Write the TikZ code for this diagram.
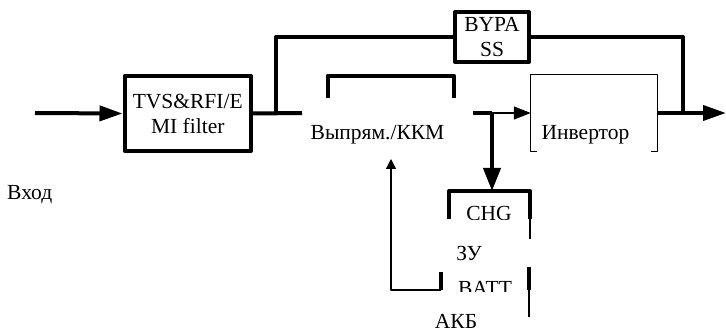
\documentclass[tikz,border=0pt]{standalone}
\usepackage{fontspec}
\setmainfont{Liberation Serif}
\usetikzlibrary{arrows.meta}
\tikzset{
  thk/.style={line width=4pt},
  thn/.style={line width=1.3pt},
  blk/.style={draw,thk,inner sep=0pt,align=center},
  hole/.style={inner sep=0pt},
  lbl/.style={inner sep=0pt,anchor=base}
}
\begin{document}
\begin{tikzpicture}[x=1pt,y=-1pt,font=\fontsize{21.5}{25}\selectfont,line join=round,>={Triangle[length=23pt,width=15pt]}]
\useasboundingbox (0,0) rectangle (726,334);
% blocks
\node[blk,minimum width=126.5pt,minimum height=75pt] (filt) at (187.75,113.5) {TVS\&RFI/E\\MI filter};
\node[blk,minimum width=74pt,minimum height=50pt] (byp) at (492,37) {BYPA\\SS};
\node[hole,minimum width=126.3pt,minimum height=74pt] (rect) at (390.85,113) {};
\node[hole,minimum width=126pt,minimum height=76pt] (inv) at (594,113) {};
\coordinate (in) at (35,113);
\coordinate (jl) at (276,113);
\coordinate (rin) at (302,113);
\coordinate (rout) at (473,113);
\coordinate (jc) at (492,113);
\coordinate (jr) at (683,113);
\coordinate (out) at (726,113);
\coordinate (chgL) at (449.3,191);
\coordinate (chgR) at (530,191);
\coordinate (batL) at (441,290);
\coordinate (batR) at (529,290);
\coordinate (fb) at (391,159);
% texts
\node[lbl,anchor=base west] (vhod) at (7,200) {Вход};
\node[lbl] (rectt) at (377.5,140) {Выпрям./ККМ};
\node[lbl] (invt) at (585.5,140) {Инвертор};
\node[lbl] (zu) at (469,260) {ЗУ};
\node[lbl] (akb) at (456,328.5) {АКБ};
\begin{scope}
\clip (440,180) rectangle (540,219);
\node[lbl] (chgt) at (489,221) {CHG};
\end{scope}
\begin{scope}
\clip (440,270) rectangle (540,291);
\node[lbl] (batt) at (485,295.5) {BATT};
\end{scope}
% box outlines
\draw[thk] ([yshift=-22pt]rect.north west) -- (rect.north west) -- (rect.north east) -- ([yshift=-22pt]rect.north east);
\draw[thn] ([xshift=6pt]inv.south west) -- (inv.south west) -- (inv.north west) -- (inv.north east) -- (inv.south east) -- ([xshift=-6pt]inv.south east);
\draw[thk] ([yshift=-28pt]chgL) -- (chgL) -- (chgR) -- ([yshift=-28pt]chgR);
\draw[thn] ([yshift=-28pt]chgR) -- ([yshift=-48pt]chgR);
\draw[thk] (batL) -- ([yshift=18pt]batL);
\draw[thk] (batR) -- ([yshift=23pt]batR);
\draw[thn] (batR) -- ([yshift=-27pt]batR);
% connectors
\draw[thk,->] (in) -- (filt.west);
\draw[thk] (filt.east) -- (rin);
\draw[thk] (jl) |- (byp.west);
\draw[thk] (byp.east) -| (jr);
\draw[thk] (rout) -- (jc);
\draw[thn,-{Triangle[length=17pt,width=13pt]}] (jc) -- (inv.west);
\draw[thk,-{Triangle[length=23pt,width=17pt]}] (jc) -- (jc |- chgL);
\draw[thk,->] (inv.east) -- (out);
\draw[thn,-{Triangle[length=10pt,width=10pt]}] (batL) -| (fb);
\end{tikzpicture}
\end{document}
